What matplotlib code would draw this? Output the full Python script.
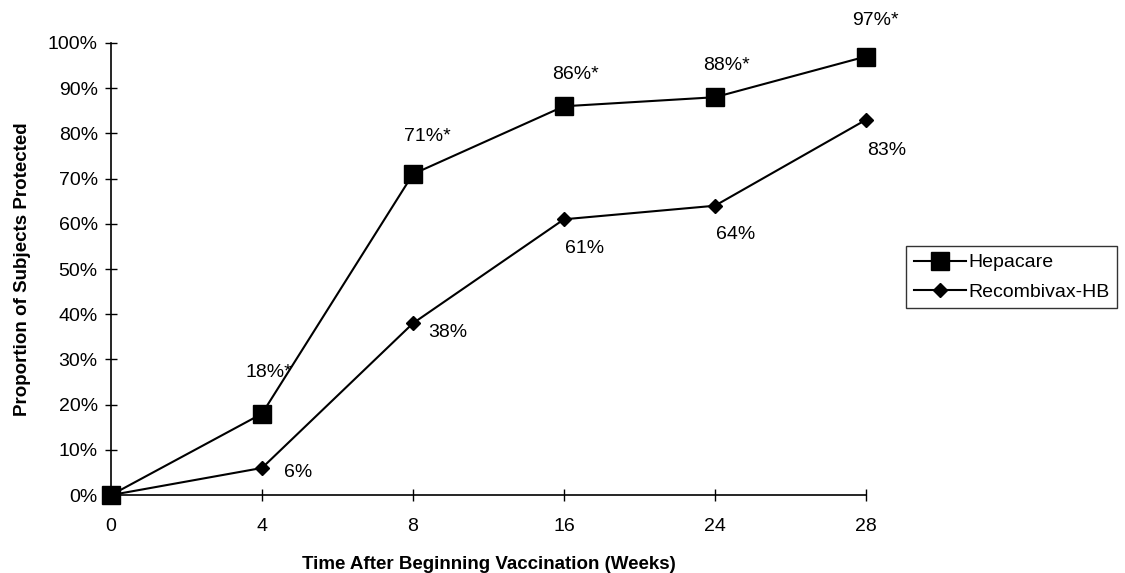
import matplotlib.pyplot as plt
import numpy as np

plt.rcParams['font.family'] = ['Liberation Sans', 'DejaVu Sans']

weeks = ['0', '4', '8', '16', '24', '28']
hepacare = [0, 18, 71, 86, 88, 97]
recombivax = [0, 6, 38, 61, 64, 83]
hep_labels = ['', '18%*', '71%*', '86%*', '88%*', '97%*']
rec_labels = ['', '6%', '38%', '61%', '64%', '83%']

x = np.arange(len(weeks))

fig = plt.figure(figsize=(11.25, 5.73), dpi=100)
ax = fig.add_axes([0.0987, 0.136, 0.671, 0.789])

ax.plot(x, hepacare, color='black', lw=1.5, marker='s', markersize=13,
        label='Hepacare', clip_on=False, zorder=3)
ax.plot(x, recombivax, color='black', lw=1.5, marker='D', markersize=7,
        label='Recombivax-HB', clip_on=False, zorder=3)

# hepacare labels sit above the squares
hep_off = [None, (5, 30), (10, 27), (8, 23), (8, 23), (7, 26)]
for i, lab in enumerate(hep_labels):
    if lab:
        ax.annotate(lab, (x[i], hepacare[i]), xytext=hep_off[i], textcoords='offset points',
                    ha='center', va='center', fontsize=14)

rec_off = [None, (16, -3), (11, -7), (1, -21), (1, -21), (1, -22)]
for i, lab in enumerate(rec_labels):
    if lab:
        ax.annotate(lab, (x[i], recombivax[i]), xytext=rec_off[i], textcoords='offset points',
                    ha='left', va='center', fontsize=14)

ax.set_xlim(0, 5)
ax.set_ylim(0, 100)
ax.set_xticks(x)
ax.set_xticklabels(weeks)
ax.set_yticks(np.arange(0, 101, 10))
ax.set_yticklabels([f'{v}%' for v in range(0, 101, 10)])
ax.tick_params(axis='y', direction='inout', length=9, width=1, labelsize=14, pad=5)
ax.tick_params(axis='x', direction='inout', length=9, width=1, labelsize=14, pad=12)
for s in ['top', 'right']:
    ax.spines[s].set_visible(False)
for s in ['left', 'bottom']:
    ax.spines[s].set_linewidth(1.2)

ax.set_xlabel('Time After Beginning Vaccination (Weeks)', fontsize=13.5, fontweight='bold', labelpad=15)
ax.set_ylabel('Proportion of Subjects Protected', fontsize=13.5, fontweight='bold', labelpad=12)

leg = ax.legend(loc='center left', bbox_to_anchor=(1.053, 0.482), fontsize=14, frameon=True,
                fancybox=False, edgecolor='black', handlelength=2.7, borderpad=0.4,
                labelspacing=0.6, handletextpad=0.1, borderaxespad=0)
leg.get_frame().set_linewidth(1)

fig.savefig('out.png', dpi=100)
